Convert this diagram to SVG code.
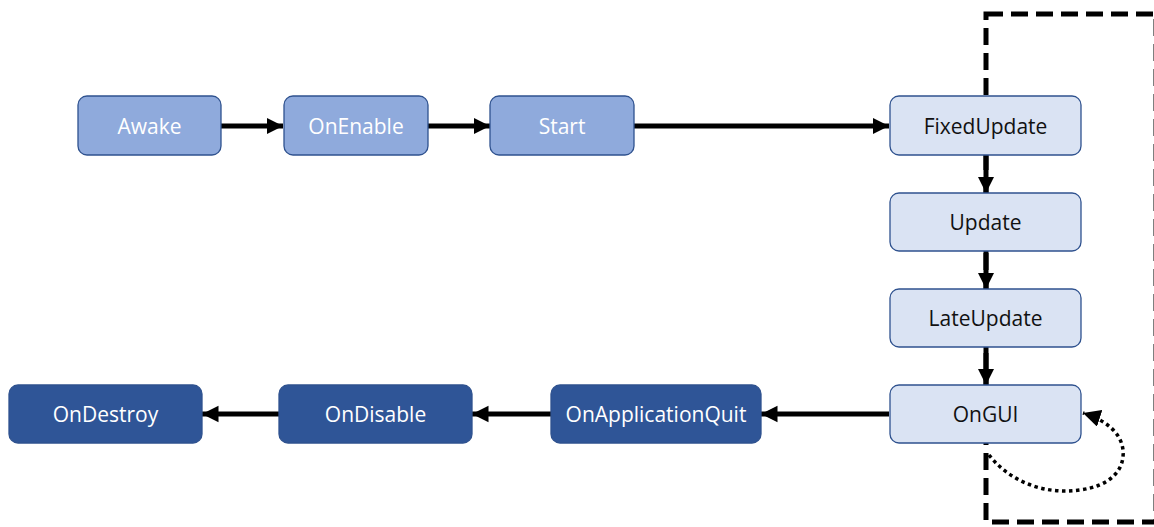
<svg xmlns="http://www.w3.org/2000/svg" width="1154" height="527" viewBox="0 0 1154 527">
  <style>
    .box { stroke-width: 1.3; }
    .init { fill: #8FAADC; stroke: #2F528F; }
    .loop { fill: #DAE3F3; stroke: #2F528F; }
    .end { fill: #2F5597; stroke: #2F528F; }
    .lbl { font-family: "Open Sans", "Noto Sans", sans-serif; font-size: 21px; text-anchor: middle; dominant-baseline: central; }
    .light { fill: #FFFFFF; }
    .dark { fill: #111111; }
    .flow { stroke: #000; stroke-width: 5; fill: none; }
  </style>
  <defs>
    <marker id="arrow" viewBox="0 0 10 10" refX="10" refY="5" markerWidth="3.3" markerHeight="3.5" orient="auto" markerUnits="strokeWidth">
      <path d="M0,0 L10,5 L0,10 z" fill="#000"/>
    </marker>
    <marker id="arrowSmall" viewBox="0 0 10 10" refX="10" refY="5" markerWidth="5" markerHeight="5" orient="auto" markerUnits="strokeWidth">
      <path d="M0,0 L10,5 L0,10 z" fill="#000"/>
    </marker>
  </defs>

  <rect width="1154" height="527" fill="#FFFFFF"/>

  <!-- update loop frame -->
  <rect id="loop-frame" x="986" y="14" width="170" height="508" fill="none" stroke="#000" stroke-width="5" stroke-dasharray="17 8"/>

  <g id="connectors">
    <line class="flow" x1="221" y1="126" x2="283" y2="126" marker-end="url(#arrow)"/>
    <line class="flow" x1="428" y1="126" x2="490" y2="126" marker-end="url(#arrow)"/>
    <line class="flow" x1="634" y1="126" x2="889" y2="126" marker-end="url(#arrow)"/>
    <line class="flow" x1="986" y1="155" x2="986" y2="193" marker-end="url(#arrow)"/>
    <line class="flow" x1="986" y1="251" x2="986" y2="289" marker-end="url(#arrow)"/>
    <line class="flow" x1="986" y1="347" x2="986" y2="385" marker-end="url(#arrow)"/>
    <line class="flow" x1="889" y1="414" x2="761" y2="414" marker-end="url(#arrow)"/>
    <line class="flow" x1="551" y1="414" x2="472" y2="414" marker-end="url(#arrow)"/>
    <line class="flow" x1="279" y1="414" x2="202" y2="414" marker-end="url(#arrow)"/>
    <path d="M989,455 C1010,482 1045,495 1080,490 C1110,486 1125,470 1123,450 C1121,432 1105,420 1083,413" fill="none" stroke="#000" stroke-width="3.5" stroke-dasharray="3.5 3.5" marker-end="url(#arrowSmall)"/>
  </g>

  <g id="awake"><rect class="box init" x="78" y="96" width="143" height="59" rx="9"/><text class="lbl light" x="149.5" y="126">Awake</text></g>
  <g id="onenable"><rect class="box init" x="284" y="96" width="144" height="59" rx="9"/><text class="lbl light" x="356" y="126">OnEnable</text></g>
  <g id="start"><rect class="box init" x="490" y="96" width="144" height="59" rx="9"/><text class="lbl light" x="562" y="126">Start</text></g>

  <g id="fixedupdate"><rect class="box loop" x="890" y="96" width="191" height="59" rx="9"/><text class="lbl dark" x="985.5" y="126">FixedUpdate</text></g>
  <g id="update"><rect class="box loop" x="890" y="193" width="191" height="58" rx="9"/><text class="lbl dark" x="985.5" y="222">Update</text></g>
  <g id="lateupdate"><rect class="box loop" x="890" y="289" width="191" height="58" rx="9"/><text class="lbl dark" x="985.5" y="318">LateUpdate</text></g>
  <g id="ongui"><rect class="box loop" x="890" y="385" width="191" height="58" rx="9"/><text class="lbl dark" x="985.5" y="414">OnGUI</text></g>

  <g id="onapplicationquit"><rect class="box end" x="551" y="385" width="210" height="58" rx="9"/><text class="lbl light" x="656" y="414">OnApplicationQuit</text></g>
  <g id="ondisable"><rect class="box end" x="279" y="385" width="193" height="58" rx="9"/><text class="lbl light" x="375.5" y="414">OnDisable</text></g>
  <g id="ondestroy"><rect class="box end" x="9" y="385" width="193" height="58" rx="9"/><text class="lbl light" x="105.5" y="414">OnDestroy</text></g>
</svg>
